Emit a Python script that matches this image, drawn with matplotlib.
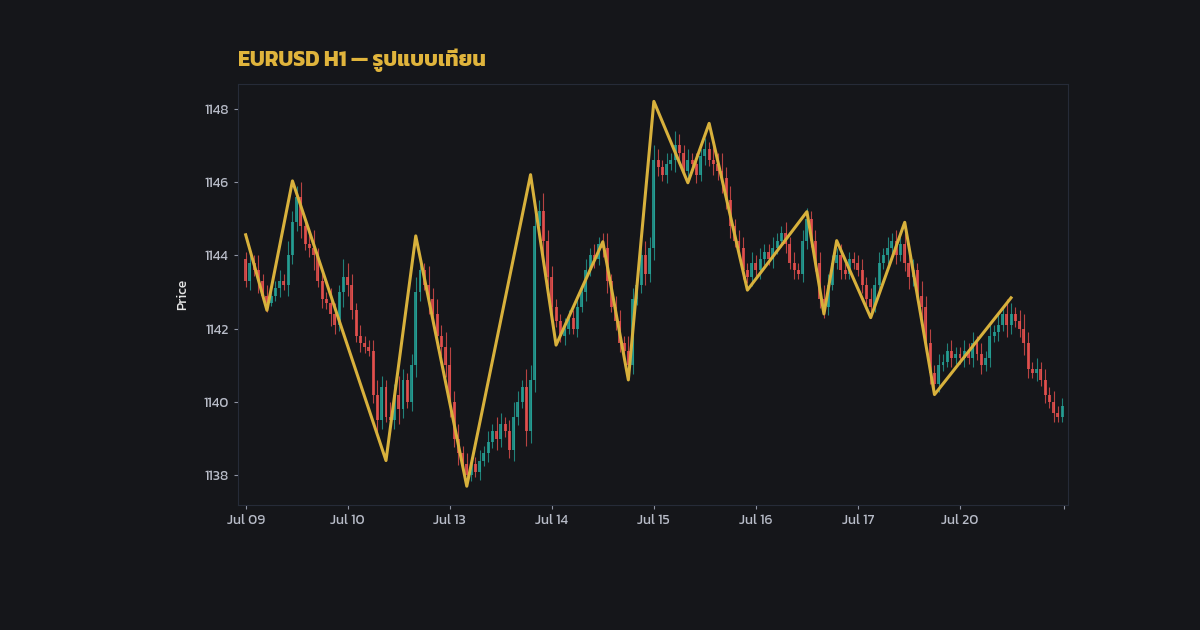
import matplotlib
matplotlib.use("Agg")
import matplotlib.pyplot as plt
import numpy as np

plt.rcParams['font.family'] = ['Kanit', 'DejaVu Sans']

title = "EURUSD H1 — รูปแบบเทียน"
day_labels = ["Jul 09", "Jul 10", "Jul 13", "Jul 14", "Jul 15", "Jul 16", "Jul 17", "Jul 20"]
bars_per_day = 24
first_open = 1143.9

closes = [
    1143.3, 1143.8, 1143.6, 1143.3, 1142.9, 1142.7, 1142.9, 1143.1, 1143.3, 1143.2, 1144.0, 1144.9,
    1145.6, 1144.8, 1144.3, 1144.2, 1144.0, 1143.3, 1142.8, 1142.7, 1142.4, 1142.1, 1143.0, 1143.4,
    1143.2, 1142.5, 1141.8, 1141.6, 1141.5, 1141.4, 1140.2, 1139.5, 1140.4, 1139.6, 1139.5, 1140.2,
    1139.8, 1140.6, 1140.0, 1141.0, 1143.0, 1143.6, 1143.2, 1142.8, 1142.4, 1141.8, 1141.5, 1141.0,
    1140.0, 1139.0, 1138.6, 1138.3, 1138.0, 1138.3, 1138.1, 1138.4, 1138.6, 1138.9, 1139.2, 1139.0,
    1139.4, 1139.2, 1138.7, 1139.6, 1140.0, 1140.4, 1139.2, 1140.6, 1144.8, 1145.2, 1144.4, 1143.4,
    1142.6, 1142.2, 1141.8, 1142.0, 1142.3, 1142.0, 1142.6, 1143.0, 1143.6, 1144.0, 1143.9, 1144.3,
    1144.2, 1143.3, 1142.6, 1142.2, 1141.6, 1141.4, 1141.0, 1142.8, 1143.2, 1144.0, 1143.5, 1144.2,
    1146.6, 1146.4, 1146.2, 1146.5, 1146.6, 1147.0, 1146.8, 1146.3, 1146.6, 1146.5, 1146.2, 1146.7,
    1146.9, 1146.6, 1146.5, 1146.3, 1146.1, 1145.5, 1144.8, 1144.4, 1144.2, 1143.6, 1143.4, 1143.8,
    1143.6, 1143.9, 1144.1, 1143.9, 1144.2, 1144.4, 1144.6, 1144.3, 1143.8, 1143.6, 1143.5, 1144.4,
    1145.0, 1144.4, 1143.8, 1142.8, 1142.6, 1143.2, 1143.8, 1144.0, 1143.6, 1143.5, 1143.9, 1143.8,
    1143.6, 1143.2, 1142.8, 1142.6, 1143.2, 1143.8, 1144.0, 1144.2, 1144.4, 1144.0, 1144.3, 1143.8,
    1143.4, 1143.6, 1142.9, 1142.6, 1141.6, 1140.8, 1140.5, 1141.0, 1141.1, 1141.4, 1141.2, 1141.3,
    1141.2, 1141.4, 1141.2, 1141.6, 1141.3, 1141.0, 1141.2, 1141.8, 1141.9, 1142.1, 1142.4, 1142.1,
    1142.4, 1142.2, 1142.0, 1141.6, 1140.9, 1140.8, 1140.9, 1140.6, 1140.2, 1140.0, 1139.7, 1139.6,
    1139.9,
]
wicks = [
    0.2, 0.3, 0.2, 0.4, 0.2, 0.3, 0.1, 0.2, 0.3, 0.2, 0.4, 0.3, 0.3, 0.4, 0.2, 0.3, 0.5, 0.2, 0.3, 0.2, 0.4, 0.3, 0.2, 0.5,
    0.4, 0.3, 0.2, 0.3, 0.2, 0.2, 0.3, 0.4, 0.3, 0.2, 0.4, 0.3, 0.5, 0.3, 0.2, 0.3, 0.4, 0.3, 0.2, 0.5, 0.3, 0.4, 0.3, 0.4,
    0.5, 0.3, 0.4, 0.2, 0.3, 0.2, 0.2, 0.3, 0.2, 0.3, 0.2, 0.4, 0.3, 0.2, 0.3, 0.4, 0.3, 0.2, 0.5, 0.4, 0.4, 0.3, 0.5, 0.3,
    0.3, 0.2, 0.2, 0.3, 0.2, 0.2, 0.3, 0.2, 0.3, 0.2, 0.3, 0.2, 0.3, 0.4, 0.2, 0.3, 0.3, 0.2, 0.4, 0.3, 0.2, 0.3, 0.4, 0.3,
    0.4, 0.3, 0.2, 0.3, 0.2, 0.4, 0.3, 0.2, 0.3, 0.2, 0.3, 0.2, 0.3, 0.2, 0.4, 0.3, 0.5, 0.3, 0.4, 0.2, 0.3, 0.3, 0.2, 0.3,
    0.2, 0.3, 0.2, 0.2, 0.3, 0.2, 0.2, 0.3, 0.2, 0.3, 0.2, 0.3, 0.3, 0.2, 0.3, 0.3, 0.4, 0.3, 0.2, 0.2, 0.3, 0.2, 0.2, 0.2,
    0.2, 0.3, 0.2, 0.3, 0.2, 0.3, 0.2, 0.3, 0.2, 0.3, 0.2, 0.3, 0.4, 0.3, 0.2, 0.4, 0.3, 0.4, 0.2, 0.3, 0.2, 0.2, 0.3, 0.2,
    0.2, 0.3, 0.2, 0.3, 0.2, 0.3, 0.2, 0.3, 0.2, 0.3, 0.2, 0.4, 0.3, 0.2, 0.3, 0.4, 0.3, 0.2, 0.3, 0.2, 0.3, 0.2, 0.3, 0.2,
    0.2,
]

zz_idx = [0, 5, 11, 33, 40, 52, 67, 73, 84, 90, 96, 104, 109, 118, 132, 136, 139, 147, 155, 162, 180]
zz_val = [1144.56, 1142.5, 1146.03, 1138.4, 1144.53, 1137.7, 1146.2, 1141.55, 1144.37, 1140.6,
          1148.2, 1145.98, 1147.6, 1143.05, 1145.19, 1142.4, 1144.4, 1142.3, 1144.9, 1140.2, 1142.84]

BG = "#15161a"
UP = "#26a69a"
DN = "#ef5350"

fig = plt.figure(figsize=(12, 6.3), dpi=100, facecolor=BG)
ax = fig.add_axes([0.198, 0.198, 0.692, 0.669], facecolor=BG)

opens = [first_open] + closes[:-1]
for i, (o, c, w) in enumerate(zip(opens, closes, wicks)):
    col = UP if c >= o else DN
    hi = max(o, c) + w
    lo = min(o, c) - w * 0.8
    ax.vlines(i, lo, hi, color=col, linewidth=0.8, alpha=0.75, zorder=2)
    ax.bar(i, max(abs(c - o), 0.04), bottom=min(o, c), width=0.7, color=col, alpha=0.8, zorder=3, linewidth=0)

ax.plot(zz_idx, zz_val, color="#d8b13c", linewidth=2.2, zorder=4)

ax.set_xlim(-1.9, 193.4)
ax.set_ylim(1137.18, 1148.68)
ax.set_yticks([1138, 1140, 1142, 1144, 1146, 1148])
ticks = [i * bars_per_day for i in range(len(day_labels))]
ax.set_xticks(ticks + [192.5])
ax.set_xticklabels(day_labels + [""])
ax.tick_params(colors="#8f94a3", labelcolor="#b8bcc8", labelsize=10, length=3)
for s in ax.spines.values():
    s.set_color("#262b38")
    s.set_linewidth(0.8)
ax.set_ylabel("Price", color="#e6e6e6", fontsize=10, labelpad=10)
ax.grid(False)

fig.text(0.198, 0.885, title, color="#e0b43c", fontsize=15.5, fontweight="bold", ha="left", va="bottom")

fig.savefig("out.png", facecolor=BG)
